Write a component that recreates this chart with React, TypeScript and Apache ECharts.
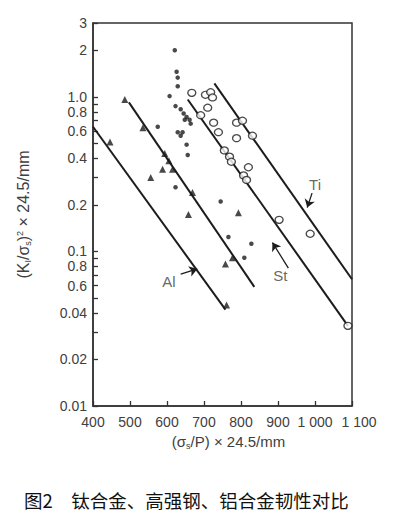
import React, { useEffect, useRef } from "react";
import * as echarts from "echarts";

// axis ticks
const xMin = 400;
const xMax = 1100;
const xStep = 100;
const yMin = 0.01;
const yMax = 3;
const yTickValues = [0.01, 0.02, 0.03, 0.04, 0.05, 0.06, 0.07, 0.08, 0.09, 0.1, 0.2, 0.3, 0.4, 0.5, 0.6, 0.7, 0.8, 0.9, 1, 2, 3];
const yLabelValues = [0.01, 0.02, 0.04, 0.06, 0.08, 0.1, 0.2, 0.4, 0.6, 0.8, 1, 2, 3];
const yLabelTexts = ["0.01", "0.02", "0.04", "0.6", "0.8", "0.1", "0.2", "0.4", "0.6", "0.8", "1.0", "2", "3"];

// open circles
const circleX = [667, 704, 718, 723, 710, 691, 726, 739, 788, 804, 788, 831, 755, 769, 774, 820, 807, 815, 903, 987, 1089];
const circleY = [1.06, 1.03, 1.07, 0.99, 0.85, 0.76, 0.68, 0.59, 0.68, 0.7, 0.54, 0.56, 0.45, 0.41, 0.38, 0.35, 0.31, 0.29, 0.16, 0.13, 0.033];

// filled dots
const dotX = [621, 626, 629, 629, 607, 623, 637, 645, 653, 661, 664, 648, 575, 629, 642, 637, 653, 656, 623, 745, 766, 828, 809];
const dotY = [2.0, 1.45, 1.33, 1.17, 1.01, 0.87, 0.83, 0.78, 0.74, 0.71, 0.67, 0.71, 0.64, 0.59, 0.59, 0.56, 0.49, 0.42, 0.26, 0.21, 0.124, 0.112, 0.091];

// filled triangles
const triX = [486, 535, 446, 556, 594, 605, 588, 615, 669, 658, 793, 777, 758, 761];
const triY = [0.96, 0.63, 0.51, 0.3, 0.43, 0.385, 0.34, 0.34, 0.24, 0.173, 0.178, 0.091, 0.083, 0.045];

// trend lines (end points)
const alLineX = [400, 758];
const alLineY = [0.64, 0.042];
const al2LineX = [497, 836];
const al2LineY = [0.92, 0.059];
const stLineX = [656, 1089];
const stLineY = [0.96, 0.033];
const tiLineX = [728, 1100];
const tiLineY = [1.22, 0.066];

// annotations
const noteTexts = ["Al", "St", "Ti"];
const noteX = [605, 906, 1000];
const noteY = [0.064, 0.07, 0.272];
const arrowFromX = [637, 928, 992];
const arrowFromY = [0.0713, 0.078, 0.238];
const arrowToX = [682, 885, 979];
const arrowToY = [0.077, 0.114, 0.192];

const caption = "图2\u3000钛合金、高强钢、铝合金韧性对比";

const zip = (xs: number[], ys: number[]) => xs.map((x, i) => [x, ys[i]]);

const INK = "#1c1c1c";
const GREY = "#404040";
const FONT = "'Liberation Sans', Arial, sans-serif";

export default function App() {
  const ref = useRef<HTMLDivElement>(null);
  useEffect(() => {
    if (!ref.current) return;
    const chart = echarts.init(ref.current, undefined, { renderer: "svg" });
    const lineSeries = (name: string, xs: number[], ys: number[]) => ({
      name,
      type: "line",
      data: zip(xs, ys),
      symbol: "none",
      lineStyle: { color: INK, width: 2 },
      z: 3,
    });
    chart.setOption({
      animation: false,
      title: {
        text: caption,
        left: 24,
        top: 491,
        padding: 0,
        textStyle: { fontFamily: "'Noto Sans CJK SC', sans-serif", fontSize: 18.5, fontWeight: "normal", color: "#111" },
      },
      grid: {
        left: 93,
        right: 47,
        top: 23,
        bottom: 114,
        show: true,
        borderColor: "#333",
        borderWidth: 1.5,
      },
      xAxis: {
        type: "value",
        min: xMin,
        max: xMax,
        interval: xStep,
        name: "(σ{sub|s}/P) × 24.5/mm",
        nameLocation: "middle",
        nameGap: 27,
        nameTextStyle: {
          fontFamily: FONT,
          fontSize: 15,
          color: GREY,
          padding: [0, 0, 0, 12],
          rich: { sub: { fontSize: 9, fontFamily: FONT, color: GREY, verticalAlign: "bottom", padding: [8, 0, 0, 0] } },
        },
        splitLine: { show: false },
        axisLine: { lineStyle: { color: "#333", width: 1.5 } },
        axisTick: { inside: true, length: 5, lineStyle: { color: "#333", width: 1.3 } },
        axisLabel: {
          fontFamily: FONT,
          fontSize: 14,
          color: GREY,
          margin: 9,
          hideOverlap: false,
          showMinLabel: true,
          showMaxLabel: true,
          formatter: (v: number) =>
            v >= xMax
              ? `{far|${Math.floor(v / 1000)} ${String(v % 1000).padStart(3, "0")}}`
              : v >= 1000
              ? `${Math.floor(v / 1000)} ${String(v % 1000).padStart(3, "0")}`
              : String(v),
          rich: {
            far: { fontFamily: FONT, fontSize: 14, color: GREY, padding: [0, 0, 0, 14] },
          },
        },
      },
      yAxis: {
        type: "log",
        logBase: 10,
        min: yMin,
        max: yMax,
        name: "(K{sub|I}/σ{sub|s}){sup|2} × 24.5/mm",
        nameLocation: "middle",
        nameGap: 61,
        nameTextStyle: {
          fontFamily: FONT,
          fontSize: 16,
          color: GREY,
          rich: {
            sub: { fontSize: 9, fontFamily: FONT, color: GREY, verticalAlign: "bottom", padding: [8, 0, 0, 0] },
            sup: { fontSize: 9, fontFamily: FONT, color: GREY, verticalAlign: "top", padding: [0, 0, 8, 0] },
          },
        },
        splitLine: { show: false },
        minorTick: { show: false },
        axisLine: { show: true, lineStyle: { color: "#333", width: 1.5 } },
        axisTick: { show: true, inside: true, length: 5, customValues: yTickValues, lineStyle: { color: "#333", width: 1.3 } },
        axisLabel: {
          fontFamily: FONT,
          fontSize: 14,
          color: GREY,
          margin: 6,
          customValues: yLabelValues,
          formatter: (v: number) => {
            let best = 0;
            let bd = Infinity;
            yLabelValues.forEach((t, i) => {
              const d = Math.abs(Math.log10(t) - Math.log10(v));
              if (d < bd) {
                bd = d;
                best = i;
              }
            });
            return yLabelTexts[best];
          },
        },
      },
      series: [
        lineSeries("Al", alLineX, alLineY),
        lineSeries("Al2", al2LineX, al2LineY),
        lineSeries("St", stLineX, stLineY),
        lineSeries("Ti", tiLineX, tiLineY),
        {
          name: "circles",
          type: "scatter",
          data: zip(circleX, circleY),
          symbol: "circle",
          symbolSize: [8, 7],
          itemStyle: { color: "#fff", borderColor: INK, borderWidth: 1.3 },
          z: 4,
        },
        {
          name: "dots",
          type: "scatter",
          data: zip(dotX, dotY),
          symbol: "circle",
          symbolSize: 4.5,
          itemStyle: { color: INK },
          z: 4,
        },
        {
          name: "triangles",
          type: "scatter",
          data: zip(triX, triY),
          symbol: "triangle",
          symbolSize: 7,
          itemStyle: { color: INK },
          z: 4,
        },
        {
          name: "notes",
          type: "scatter",
          data: noteX.map((x, i) => ({ value: [x, noteY[i]], name: noteTexts[i] })),
          symbol: "circle",
          symbolSize: 2,
          itemStyle: { color: "rgba(0,0,0,0)" },
          label: {
            show: true,
            position: "inside",
            formatter: (p: any) => p.name,
            fontFamily: FONT,
            fontSize: 15,
            color: GREY,
          },
          z: 5,
        },
        {
          name: "arrows",
          type: "line",
          data: [],
          markLine: {
            silent: true,
            symbol: ["none", "arrow"],
            symbolSize: 8,
            label: { show: false },
            lineStyle: { color: INK, width: 1.3, type: "solid", opacity: 1 },
            data: arrowFromX.map((x, i) => [
              { coord: [x, arrowFromY[i]] },
              { coord: [arrowToX[i], arrowToY[i]] },
            ]),
          },
          z: 5,
        },
      ],
    });
    return () => chart.dispose();
  }, []);
  return <div ref={ref} style={{ position: "absolute", left: 0, top: 0, width: 399, height: 520 }} />;
}
